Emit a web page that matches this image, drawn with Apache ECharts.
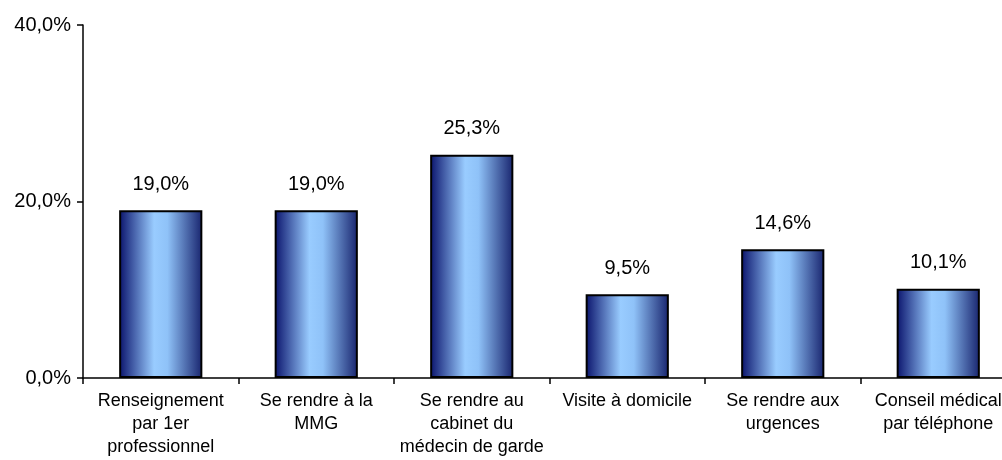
<!DOCTYPE html>
<html>
<head>
<meta charset="utf-8">
<script src="https://cdn.jsdelivr.net/npm/echarts@6/dist/echarts.min.js"></script>
<style>
  html, body { margin: 0; padding: 0; background: #ffffff; }
  #chart { width: 1002px; height: 460px; }
</style>
</head>
<body>
<div id="chart"></div>
<script>
// Categories (line breaks as printed under each bar)
const categories = [
  'Renseignement\npar 1er\nprofessionnel',
  'Se rendre à la\nMMG',
  'Se rendre au\ncabinet du\nmédecin de garde',
  'Visite à domicile',
  'Se rendre aux\nurgences',
  'Conseil médical\npar téléphone'
];
// Share of answers, in percent
const values = [19.0, 19.0, 25.3, 9.5, 14.6, 10.1];
// Value axis range and step
const yMin = 0;
const yMax = 40;
const yStep = 20;

const pct = v => v.toFixed(1).replace('.', ',') + '%';
const FONT = '"Liberation Sans", Arial, sans-serif';

const chart = echarts.init(document.getElementById('chart'), null, { renderer: 'canvas' });
chart.setOption({
  backgroundColor: '#ffffff',
  animation: false,
  // the plot runs a little past the right edge, so the last label is cut
  grid: { left: 83, width: 933, top: 25, bottom: 82, containLabel: false, outerBoundsMode: 'none' },
  xAxis: {
    type: 'category',
    data: categories,
    boundaryGap: true,
    axisLine: { lineStyle: { color: '#000', width: 1.5 } },
    axisTick: { show: true, length: 6, alignWithLabel: false, lineStyle: { color: '#000', width: 1.5 } },
    axisLabel: {
      interval: 0,
      margin: 12,
      color: '#000',
      fontFamily: FONT,
      fontSize: 18,
      lineHeight: 23,
      align: 'center',
      hideOverlap: false
    },
    splitLine: { show: false }
  },
  yAxis: {
    type: 'value',
    min: yMin,
    max: yMax,
    interval: yStep,
    axisLine: { show: true, lineStyle: { color: '#000', width: 1.5 } },
    axisTick: { show: true, length: 6, lineStyle: { color: '#000', width: 1.5 } },
    axisLabel: {
      margin: 12,
      color: '#000',
      fontFamily: FONT,
      fontSize: 20,
      formatter: pct
    },
    splitLine: { show: false }
  },
  series: [{
    type: 'bar',
    data: values,
    barWidth: '53.5%',
    itemStyle: {
      borderColor: '#000',
      borderWidth: 2,
      color: new echarts.graphic.LinearGradient(0, 0, 1, 0, [
        { offset: 0, color: '#0a136c' },
        { offset: 0.42, color: '#99ccff' },
        { offset: 0.58, color: '#8fc2f8' },
        { offset: 1, color: '#18246e' }
      ])
    },
    label: {
      show: true,
      position: 'top',
      distance: 16,
      color: '#000',
      fontFamily: FONT,
      fontSize: 20,
      formatter: p => pct(p.value)
    }
  }]
});
</script>
</body>
</html>
